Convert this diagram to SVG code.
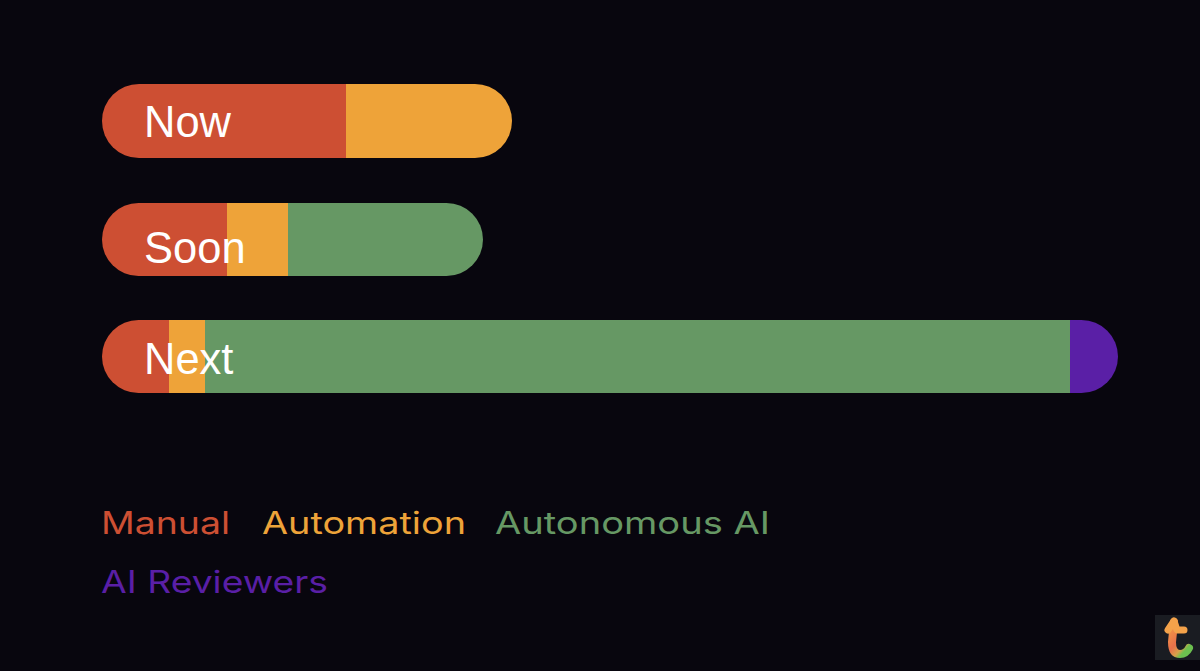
<svg xmlns="http://www.w3.org/2000/svg" width="1200" height="671" viewBox="0 0 1200 671">
<style>
.m{fill:#cd4f33}.a{fill:#eea339}.g{fill:#669864}.p{fill:#5a1fa6}
.l{font-family:"Liberation Sans",Arial,sans-serif;font-size:43.5px;fill:#fff}
.k{font-family:"Inter","Open Sans",sans-serif;font-size:31px;font-weight:400}
</style>
<defs>
<linearGradient id="lg" x1="0" y1="0" x2="0.6" y2="1"><stop offset="0" stop-color="#f59a45"/><stop offset="0.6" stop-color="#e8704a"/><stop offset="0.85" stop-color="#d9a04a"/><stop offset="1" stop-color="#6cc04f"/></linearGradient>
<clipPath id="c1"><rect x="102" y="84" width="410" height="74" rx="37"/></clipPath>
<clipPath id="c2"><rect x="102" y="203" width="381" height="73" rx="36.5"/></clipPath>
<clipPath id="c3"><rect x="102" y="320" width="1016" height="73" rx="36.5"/></clipPath>
</defs>
<rect width="1200" height="671" fill="#08060e"/>
<g id="now"><g clip-path="url(#c1)"><rect class="m" x="102" y="84" width="244" height="74"/><rect class="a" x="346" y="84" width="166" height="74"/></g><text class="l" x="144" y="137">Now</text></g>
<g id="soon"><g clip-path="url(#c2)"><rect class="m" x="102" y="203" width="125" height="73"/><rect class="a" x="227" y="203" width="61" height="73"/><rect class="g" x="288" y="203" width="195" height="73"/></g><text class="l" x="144" y="263">Soon</text></g>
<g id="next"><g clip-path="url(#c3)"><rect class="m" x="102" y="320" width="67" height="73"/><rect class="a" x="169" y="320" width="36" height="73"/><rect class="g" x="205" y="320" width="865" height="73"/><rect class="p" x="1070" y="320" width="48" height="73"/></g><text class="l" x="144" y="374">Next</text></g>
<g id="legend">
<text class="k m" x="101" y="534" textLength="129" lengthAdjust="spacingAndGlyphs">Manual</text>
<text class="k a" x="262" y="534" textLength="204" lengthAdjust="spacingAndGlyphs">Automation</text>
<text class="k g" x="495" y="534" textLength="275" lengthAdjust="spacingAndGlyphs">Autonomous AI</text>
<text class="k p" x="101" y="593" textLength="227" lengthAdjust="spacingAndGlyphs">AI Reviewers</text>
</g>
<g id="logo"><rect x="1155" y="615" width="45" height="45" fill="#1a1c22"/>
<path d="M1174 622Q1173 632 1172 642Q1172 654 1180 654Q1186 654 1189 648" fill="none" stroke="url(#lg)" stroke-width="8" stroke-linecap="round"/>
<path d="M1168 630L1174 621L1177 630H1184" fill="none" stroke="#f4a24a" stroke-width="7" stroke-linecap="round" stroke-linejoin="round"/></g>
</svg>
